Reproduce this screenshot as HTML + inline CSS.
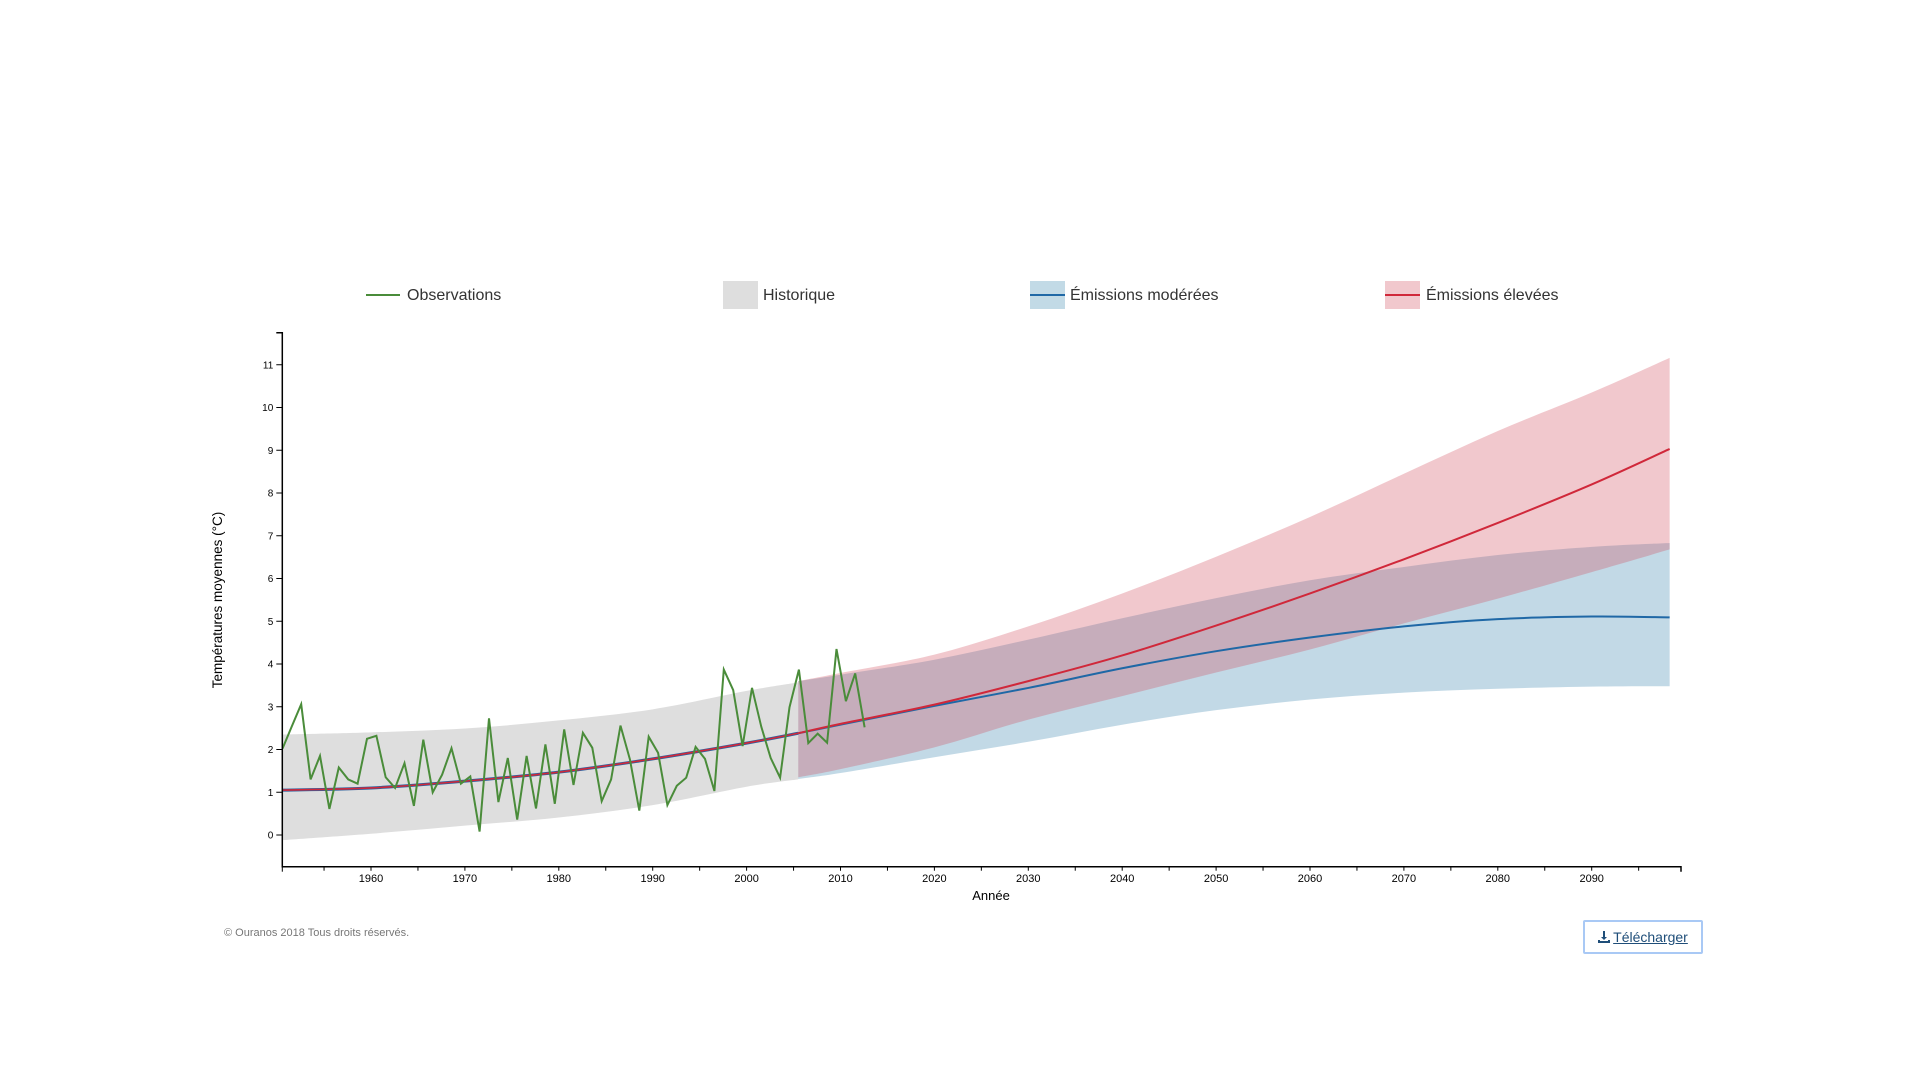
<!DOCTYPE html>
<html><head><meta charset="utf-8"><style>
body{margin:0;width:1920px;height:1080px;background:#fff;overflow:hidden;font-family:"Liberation Sans",sans-serif;}
#btn{position:absolute;left:1583px;top:920px;width:120px;height:34px;border:2px solid #a9c9f5;border-radius:2px;box-sizing:border-box;display:flex;align-items:center;justify-content:center;font-size:14px;color:#1f4e79;text-decoration:underline;cursor:pointer;}
#copy{position:absolute;left:224px;top:927px;font-size:11px;color:#777;}
</style></head><body>
<svg id="chart" width="1920" height="1080" style="position:absolute;left:0;top:0" xmlns="http://www.w3.org/2000/svg"></svg>
<div id="copy">© Ouranos 2018 Tous droits réservés.</div>
<div id="btn"><svg width="12" height="12" viewBox="0 0 12 12" style="margin-right:3px"><path d="M5 0h2v6h2L6 9 3 6h2z M0 9h2v1h8V9h2v3H0z" fill="#1f4e79"/></svg>Télécharger</div>
<script>
const obsStartYear = 1951;
const obsValues = [2.02,2.54,3.06,1.30,1.85,0.61,1.58,1.30,1.20,2.25,2.32,1.35,1.10,1.68,0.68,2.23,1.00,1.41,2.03,1.20,1.37,0.08,2.73,0.77,1.80,0.36,1.85,0.62,2.12,0.73,2.47,1.17,2.39,2.04,0.79,1.30,2.56,1.77,0.57,2.30,1.92,0.70,1.15,1.34,2.06,1.78,1.03,3.87,3.39,2.08,3.44,2.53,1.80,1.34,2.99,3.87,2.15,2.37,2.16,4.35,3.13,3.78,2.52];
const histYears = [1950.6,1960,1970,1980,1990,2000,2005.5];
const histLow = [-0.12,0.03,0.22,0.41,0.70,1.13,1.30];
const histHigh = [2.35,2.40,2.49,2.68,2.94,3.37,3.57];
const histMean = [1.05,1.10,1.26,1.47,1.78,2.15,2.38];
const futYears = [2005.5,2010,2020,2030,2040,2050,2060,2070,2080,2090,2098.3];
const modMean = [2.38,2.58,3.02,3.44,3.90,4.30,4.62,4.88,5.05,5.11,5.09];
const modLow = [1.31,1.45,1.82,2.18,2.58,2.92,3.17,3.33,3.42,3.47,3.48];
const modHigh = [3.60,3.75,4.10,4.57,5.07,5.54,5.96,6.27,6.55,6.74,6.83];
const highMean = [2.38,2.60,3.05,3.60,4.20,4.90,5.65,6.45,7.30,8.20,9.03];
const highLow = [1.35,1.54,2.05,2.70,3.25,3.80,4.34,4.95,5.53,6.15,6.68];
const highHigh = [3.60,3.79,4.22,4.88,5.65,6.51,7.44,8.45,9.45,10.35,11.16];
const yTicks = [0,1,2,3,4,5,6,7,8,9,10,11];
const xTickLabels = [1960,1970,1980,1990,2000,2010,2020,2030,2040,2050,2060,2070,2080,2090];

const NS="http://www.w3.org/2000/svg";
const svg=document.getElementById('chart');
const X0=282.3,X1=1681,Y0=332.7,Y1=866.7;
function x(yr){return 371+(yr-1960)*9.39;}
function y(v){return 835-v*42.75;}
function mk(t,a,p){const e=document.createElementNS(NS,t);for(const k in a)e.setAttribute(k,a[k]);(p||svg).appendChild(e);return e;}
function line(xs,vs){return xs.map((d,i)=>(i?'L':'M')+x(d).toFixed(1)+','+y(vs[i]).toFixed(1)).join('');}
function smooth(xs,vs){
  const p=xs.map((d,i)=>[x(d),y(vs[i])]);let d='M'+p[0][0]+','+p[0][1];
  for(let i=0;i<p.length-1;i++){const a=p[Math.max(0,i-1)],b=p[i],c=p[i+1],e=p[Math.min(p.length-1,i+2)];
    d+='C'+(b[0]+(c[0]-a[0])/6)+','+(b[1]+(c[1]-a[1])/6)+' '+(c[0]-(e[0]-b[0])/6)+','+(c[1]-(e[1]-b[1])/6)+' '+c[0]+','+c[1];}
  return d;}
function smoothBand(xs,lo,hi){const up=smooth(xs,hi);const rx=xs.slice().reverse(),rl=lo.slice().reverse();const dn=smooth(rx,rl).replace(/^M/,'L');return up+dn+'Z';}

let e;
e=mk('path',{d:smoothBand(histYears,histLow,histHigh),fill:'#dedede'});

e=mk('path',{d:smoothBand(futYears,modLow,modHigh),fill:'rgba(70,140,180,0.33)'});

e=mk('path',{d:smoothBand(futYears,highLow,highHigh),fill:'rgba(208,72,88,0.3)'});

e=mk('path',{d:smooth(histYears,histMean),fill:'none',stroke:'#2a5f9e','stroke-width':3});

e=mk('path',{d:smooth(histYears,histMean),fill:'none',stroke:'#d0283a','stroke-width':1.6});

e=mk('path',{d:smooth(futYears,modMean),fill:'none',stroke:'#1f68a6','stroke-width':2});

e=mk('path',{d:smooth(futYears,highMean),fill:'none',stroke:'#d0283a','stroke-width':2});

const obsYears=obsValues.map((v,i)=>obsStartYear+i-0.43);
e=mk('path',{d:line(obsYears,obsValues),fill:'none',stroke:'#4a8c3a','stroke-width':2});


e=mk('path',{d:`M${X0-6},${Y0}H${X0}V${Y1}H${X1}V${Y1+5}`,fill:'none',stroke:'#000','stroke-width':1.5});

yTicks.forEach(v=>{
  const t=mk('line',{x1:X0-6,x2:X0,y1:y(v),y2:y(v),stroke:'#000'});
  
  const l=mk('text',{x:X0-9,y:y(v)+3.5,'text-anchor':'end','font-size':10,fill:'#000'});l.textContent=v;
  
});
for(let yr=1955;yr<=2095;yr+=5){const t=mk('line',{x1:x(yr),x2:x(yr),y1:Y1,y2:Y1+4,stroke:'#000'});
  }
mk('line',{x1:X0,x2:X0,y1:Y1,y2:Y1+5,stroke:'#000'});
xTickLabels.forEach(yr=>{const l=mk('text',{x:x(yr),y:y(0)+47,'text-anchor':'middle','font-size':11,fill:'#000'});l.textContent=yr;
  });
e=mk('text',{x:991,y:910,'text-anchor':'middle','font-size':13,fill:'#000'});e.textContent='Année';

e.setAttribute('y','900');
e=mk('text',{x:0,y:0,'text-anchor':'middle','font-size':13.5,fill:'#000',transform:'translate(222,600) rotate(-90)'});e.textContent='Températures moyennes (°C)';


const LY=295;
let g=mk('g',{});
mk('line',{x1:366,x2:400,y1:LY,y2:LY,stroke:'#4a8c3a','stroke-width':2},g);
e=mk('text',{x:407,y:LY+5,'font-size':16,fill:'#333'},g);e.textContent='Observations';
g=mk('g',{});
mk('rect',{x:723,y:281,width:35,height:28,fill:'#dedede'},g);
e=mk('text',{x:763,y:LY+5,'font-size':16,fill:'#333'},g);e.textContent='Historique';
g=mk('g',{});
mk('rect',{x:1030,y:281,width:35,height:28,fill:'#c2dae6'},g);
mk('line',{x1:1030,x2:1065,y1:LY,y2:LY,stroke:'#1f68a6','stroke-width':2},g);
e=mk('text',{x:1070,y:LY+5,'font-size':16,fill:'#333'},g);e.textContent='Émissions modérées';
g=mk('g',{});
mk('rect',{x:1385,y:281,width:35,height:28,fill:'#f1c8cd'},g);
mk('line',{x1:1385,x2:1420,y1:LY,y2:LY,stroke:'#d0283a','stroke-width':2},g);
e=mk('text',{x:1426,y:LY+5,'font-size':16,fill:'#333'},g);e.textContent='Émissions élevées';
</script>
</body></html>
